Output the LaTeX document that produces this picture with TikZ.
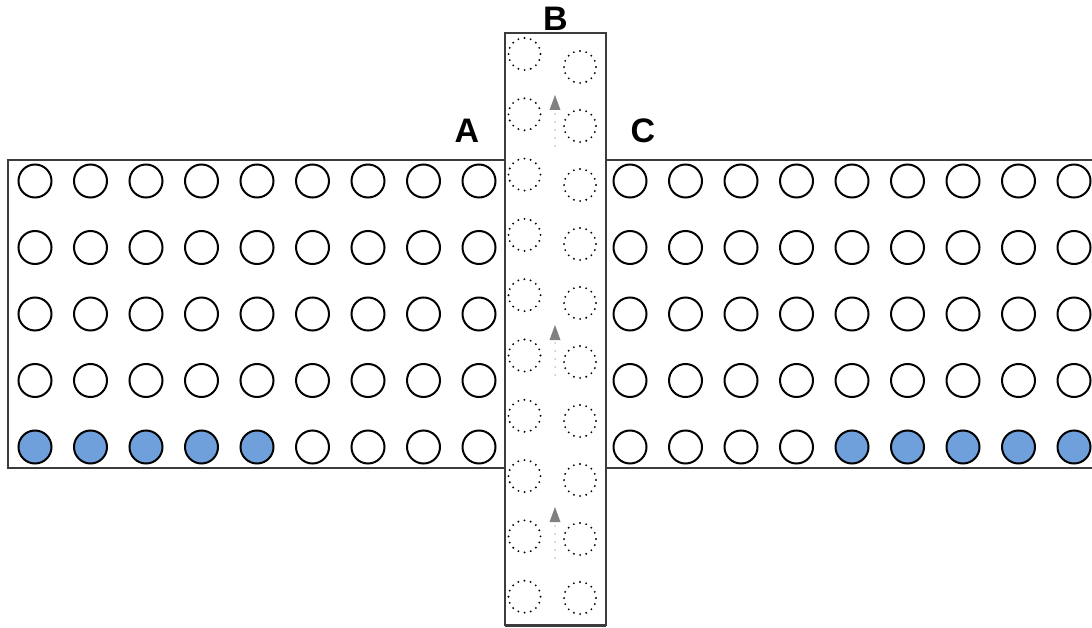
\documentclass[tikz,border=0pt]{standalone}
\usepackage{fontspec}
\setmainfont{Liberation Sans}
\usetikzlibrary{arrows.meta}
\definecolor{seatblue}{RGB}{111,160,220}
\definecolor{framegray}{RGB}{60,60,60}
\definecolor{arrowgray}{RGB}{128,128,128}
\definecolor{taildot}{RGB}{150,150,150}
\begin{document}
\begin{tikzpicture}[x=1pt,y=-1pt,
  panel/.style={rectangle,draw=framegray,line width=1.3pt,fill=white,inner sep=0pt,outer sep=0pt,anchor=north west},
  seat/.style={circle,draw=black,line width=2pt,minimum size=33pt,inner sep=0pt},
  taken/.style={seat,fill=seatblue},
  ghost/.style={circle,draw=black,line width=2.1pt,dash pattern=on 0pt off 6.28pt,line cap=round,minimum size=32pt,inner sep=0pt},
  flow/.style={draw=taildot,line width=1.5pt,dash pattern=on 0pt off 8pt,line cap=round,-{Triangle[width=11pt,length=15pt,fill=arrowgray,line width=0pt]}},
  lbl/.style={font=\bfseries\fontsize{34}{34}\selectfont,inner sep=0pt}]
\useasboundingbox (0,0) rectangle (1092,628);
\clip (0,0) rectangle (1092,628);
% panels
\node[panel,minimum width=497pt,minimum height=308pt] (left) at (8,160) {};
\node[panel,minimum width=500pt,minimum height=308pt] (right) at (605,160) {};
\node[panel,minimum width=101pt,minimum height=592pt] (mid) at (505,33) {};
\draw[framegray,line width=1.3pt] (mid.south west) ++(0,1.8) -- ++(101,0);
% seats left and right
\foreach \i in {0,...,8}{
  \foreach \j in {0,...,4}{
    \pgfmathsetmacro{\xl}{35+55.5*\i}
    \pgfmathsetmacro{\xr}{630+55.5*\i}
    \pgfmathsetmacro{\yy}{181+66.5*\j}
    \ifnum\j=4
      \ifnum\i<5
        \node[taken] (L-\i-\j) at (\xl,\yy) {};
      \else
        \node[seat] (L-\i-\j) at (\xl,\yy) {};
      \fi
      \ifnum\i<4
        \node[seat] (R-\i-\j) at (\xr,\yy) {};
      \else
        \node[taken] (R-\i-\j) at (\xr,\yy) {};
      \fi
    \else
      \node[seat] (L-\i-\j) at (\xl,\yy) {};
      \node[seat] (R-\i-\j) at (\xr,\yy) {};
    \fi
  }
}
% ghost seats in B
\foreach \k in {0,...,9}{
  \pgfmathsetmacro{\ya}{54+60.3*\k}
  \pgfmathsetmacro{\yb}{67+59*\k}
  \node[ghost] (BL-\k) at (524.5,\ya) {};
  \node[ghost] (BR-\k) at (580,\yb) {};
}
% flow arrows
\coordinate (f1s) at (555,146); \coordinate (f1e) at (555,95);
\coordinate (f2s) at (555,375); \coordinate (f2e) at (555,325);
\coordinate (f3s) at (555,558); \coordinate (f3e) at (555,507);
\draw[flow] (f1s) -- (f1e);
\draw[flow] (f2s) -- (f2e);
\draw[flow] (f3s) -- (f3e);
% labels
\node[lbl] (A) at (467,131) {A};
\node[lbl] (B) at (555.5,19) {B};
\node[lbl] (C) at (643,131) {C};
\end{tikzpicture}
\end{document}
